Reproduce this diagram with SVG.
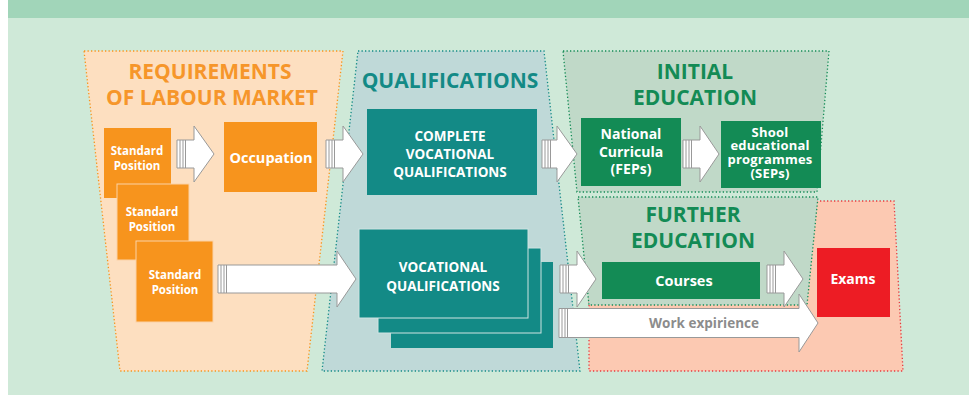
<svg xmlns="http://www.w3.org/2000/svg" width="969" height="395" viewBox="0 0 969 395">
<style>
text{font-family:"Open Sans","Liberation Sans",sans-serif;font-weight:700;text-anchor:middle}
.wt{fill:#ffffff}
.ttl{font-size:21px}
.arrow{fill:#ffffff;stroke:#999999;stroke-width:1}
.stripe{stroke:#999999;stroke-width:1}
.org{fill:#f7941d}
.teal{fill:#138a86}
.grn{fill:#138b55}
.dot{stroke-width:1.3;stroke-dasharray:1.3 2.2}
</style>
<defs>
<g id="stripes">
<line class="stripe" x1="3" y1="0" x2="3" y2="28"/>
<line class="stripe" x1="6" y1="0" x2="6" y2="28"/>
<line class="stripe" x1="8.5" y1="0" x2="8.5" y2="28"/>
</g>
</defs>
<rect x="0" y="0" width="969" height="395" fill="#ffffff"/>
<rect x="8" y="18" width="961" height="377" fill="#cfe9d8"/>
<rect x="8" y="0" width="961" height="18" fill="#a1d5b9"/>

<g id="panel-labour">
<polygon points="84,51 343,51 307,371 120,371" fill="#fddfc0" stroke="#f7941d" class="dot"/>
<text class="ttl" x="210" y="79" fill="#f6962a">REQUIREMENTS</text>
<text class="ttl" x="212" y="105" fill="#f6962a">OF LABOUR MARKET</text>
</g>
<g id="panel-qualifications">
<polygon points="358,51 544,51 580,371 322,371" fill="#bfd9d8" stroke="#138a86" class="dot"/>
<text class="ttl" x="450" y="88" fill="#138a86">QUALIFICATIONS</text>
</g>
<g id="panel-initial">
<polygon points="563,51 829,51 817,192 577,192" fill="#c0d9c8" stroke="#138b55" class="dot"/>
<text class="ttl" x="695" y="79" fill="#138b55">INITIAL</text>
<text class="ttl" x="695" y="105" fill="#138b55">EDUCATION</text>
</g>
<g id="panel-exams">
<polygon points="589,201 894,201 903,371 589,371" fill="#fcc9b2" stroke="#e63a3f" class="dot"/>
</g>
<g id="panel-further">
<polygon points="578,197 818,197 807,305 589,305" fill="#c0d9c8" stroke="#138b55" class="dot"/>
<text class="ttl" x="693" y="222" fill="#138b55">FURTHER</text>
<text class="ttl" x="693" y="248" fill="#138b55">EDUCATION</text>
</g>

<g id="standard-position-1">
<rect class="org" x="104" y="128" width="67" height="70"/>
<text class="wt" x="137" y="155" font-size="11.5">Standard</text>
<text class="wt" x="137" y="170" font-size="11.5">Position</text>
</g>
<g id="standard-position-2">
<rect class="org" x="117" y="184" width="72" height="76" stroke="#fbd2a6" stroke-width="1"/>
<text class="wt" x="152" y="216" font-size="11.5">Standard</text>
<text class="wt" x="152" y="231" font-size="11.5">Position</text>
</g>
<g id="standard-position-3">
<rect class="org" x="136" y="241" width="77" height="81" stroke="#fbd2a6" stroke-width="1"/>
<text class="wt" x="175" y="279" font-size="11.5">Standard</text>
<text class="wt" x="175" y="294" font-size="11.5">Position</text>
</g>
<g id="occupation">
<rect class="org" x="224" y="122" width="93" height="70"/>
<text class="wt" x="271" y="163" font-size="14.5">Occupation</text>
</g>
<g id="complete-vocational-qualifications">
<rect class="teal" x="367" y="109" width="170" height="86"/>
<text class="wt" x="450" y="141" font-size="13.5">COMPLETE</text>
<text class="wt" x="450" y="159" font-size="13.5">VOCATIONAL</text>
<text class="wt" x="450" y="177" font-size="13.5">QUALIFICATIONS</text>
</g>
<g id="vocational-qualifications">
<rect class="teal" x="391" y="262" width="162" height="86"/>
<rect class="teal" x="378" y="248" width="163" height="85" stroke="#cfe3e2" stroke-width="1"/>
<rect class="teal" x="359" y="229" width="169" height="89" stroke="#cfe3e2" stroke-width="1"/>
<text class="wt" x="443" y="272" font-size="13.5">VOCATIONAL</text>
<text class="wt" x="443" y="291" font-size="13.5">QUALIFICATIONS</text>
</g>
<g id="national-curricula">
<rect class="grn" x="581" y="118" width="100" height="68"/>
<text class="wt" x="631" y="139" font-size="14">National</text>
<text class="wt" x="631" y="157" font-size="14">Curricula</text>
<text class="wt" x="631" y="174" font-size="14">(FEPs)</text>
</g>
<g id="school-programmes">
<rect class="grn" x="721" y="121" width="100" height="67"/>
<text class="wt" x="770" y="136.5" font-size="13" letter-spacing="0.2">Shool</text>
<text class="wt" x="770" y="150.2" font-size="13" letter-spacing="0.2">educational</text>
<text class="wt" x="770" y="163.9" font-size="13" letter-spacing="0.2">programmes</text>
<text class="wt" x="770" y="177.6" font-size="13" letter-spacing="0.2">(SEPs)</text>
</g>
<g id="courses">
<rect class="grn" x="602" y="262" width="158" height="37"/>
<text class="wt" x="684" y="286" font-size="14.5">Courses</text>
</g>
<g id="exams">
<rect x="817" y="248" width="73" height="69" fill="#ed1c24"/>
<text class="wt" x="853" y="284" font-size="14">Exams</text>
</g>

<g id="connectors">
<path class="arrow" d="M177,140 H194 V126 L214,154 L194,182 V168 H177 Z"/>
<use href="#stripes" x="177" y="140"/>
<path class="arrow" d="M326,140 H343 V126 L363,154 L343,182 V168 H326 Z"/>
<use href="#stripes" x="326" y="140"/>
<path class="arrow" d="M542,140 H557 V126 L577,154 L557,182 V168 H542 Z"/>
<use href="#stripes" x="542" y="140"/>
<path class="arrow" d="M683,140 H700 V126 L719,154 L700,182 V168 H683 Z"/>
<use href="#stripes" x="683" y="140"/>
<path class="arrow" d="M218,265 H337 V251 L356,279 L337,307 V293 H218 Z"/>
<use href="#stripes" x="218" y="265"/>
<path class="arrow" d="M560,265 H577 V251 L596,279 L577,307 V293 H560 Z"/>
<use href="#stripes" x="560" y="265"/>
<path class="arrow" d="M767,265 H784 V251 L803,279 L784,307 V293 H767 Z"/>
<use href="#stripes" x="767" y="265"/>
<path class="arrow" d="M559,308.5 H799 V294 L818,323 L799,352 V337.5 H559 Z"/>
<use href="#stripes" x="559" y="309"/>
<text x="704" y="328" font-size="13.5" fill="#8c8c8c">Work expirience</text>
</g>
</svg>
